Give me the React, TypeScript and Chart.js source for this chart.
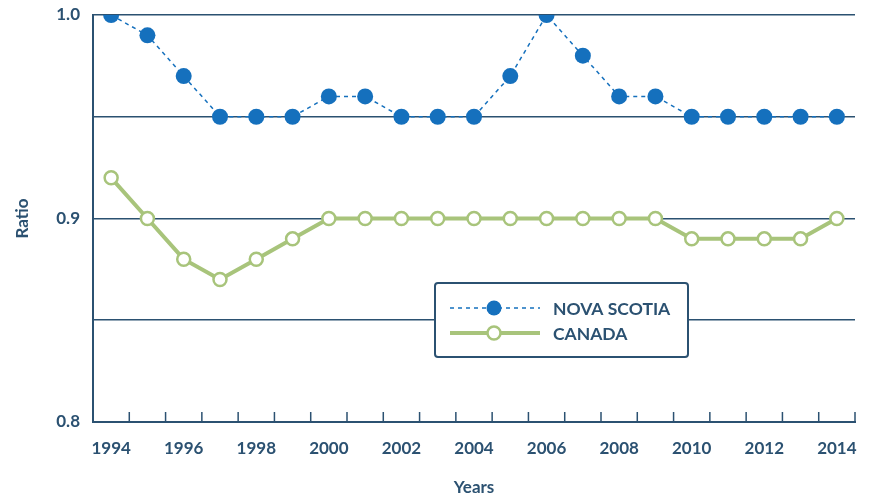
import React, { useEffect, useRef } from "react";
import { Chart, registerables } from "chart.js";
Chart.register(...registerables);

const years = ["1994","1995","1996","1997","1998","1999","2000","2001","2002","2003","2004","2005","2006","2007","2008","2009","2010","2011","2012","2013","2014"];
const novaScotia = [1.0,0.99,0.97,0.95,0.95,0.95,0.96,0.96,0.95,0.95,0.95,0.97,1.0,0.98,0.96,0.96,0.95,0.95,0.95,0.95,0.95];
const canada = [0.92,0.90,0.88,0.87,0.88,0.89,0.90,0.90,0.90,0.90,0.90,0.90,0.90,0.90,0.90,0.90,0.89,0.89,0.89,0.89,0.90];
const seriesNames = ["NOVA SCOTIA", "CANADA"];

const NAVY = "#2b5171";
const BLUE = "#1570bd";
const GREEN = "#a8c47b";
const FONT = "Lato, 'Noto Sans', sans-serif";

const xTicksPlugin = {
  id: "xTicks",
  afterDraw(chart: any) {
    const { ctx } = chart;
    const x = chart.scales.x;
    const bottom = chart.chartArea.bottom;
    const n = years.length;
    const half = (x.getPixelForValue(1) - x.getPixelForValue(0)) / 2;
    ctx.save();
    ctx.strokeStyle = NAVY;
    ctx.lineWidth = 1.5;
    for (let i = 0; i < n; i++) {
      const px = x.getPixelForValue(i) + half;
      ctx.beginPath();
      ctx.moveTo(px, bottom);
      ctx.lineTo(px, bottom - 10);
      ctx.stroke();
    }
    ctx.restore();
  },
};

const legendPlugin = {
  id: "boxLegend",
  afterDatasetsDraw(chart: any) {
    const { ctx } = chart;
    const bx = 435, by = 283, bw = 253, bh = 74;
    ctx.save();
    ctx.fillStyle = "#ffffff";
    ctx.strokeStyle = NAVY;
    ctx.lineWidth = 2;
    ctx.beginPath();
    ctx.roundRect(bx, by, bw, bh, 3);
    ctx.fill();
    ctx.stroke();
    // Nova Scotia
    ctx.strokeStyle = BLUE;
    ctx.lineWidth = 1.5;
    ctx.setLineDash([4, 4]);
    ctx.beginPath();
    ctx.moveTo(450, 308);
    ctx.lineTo(540, 308);
    ctx.stroke();
    ctx.setLineDash([]);
    ctx.fillStyle = BLUE;
    ctx.beginPath();
    ctx.arc(494, 308, 7.5, 0, Math.PI * 2);
    ctx.fill();
    // Canada
    ctx.strokeStyle = GREEN;
    ctx.lineWidth = 4;
    ctx.beginPath();
    ctx.moveTo(450, 333);
    ctx.lineTo(540, 333);
    ctx.stroke();
    ctx.fillStyle = "#ffffff";
    ctx.lineWidth = 2.5;
    ctx.beginPath();
    ctx.arc(494, 333, 6.5, 0, Math.PI * 2);
    ctx.fill();
    ctx.stroke();
    ctx.fillStyle = NAVY;
    ctx.font = `bold 17.5px ${FONT}`;
    ctx.textBaseline = "middle";
    ctx.textAlign = "left";
    ctx.fillText(seriesNames[0], 553, 309);
    ctx.fillText(seriesNames[1], 553, 334);
    ctx.restore();
  },
};

export default function App() {
  const ref = useRef<HTMLCanvasElement>(null);
  useEffect(() => {
    const chart = new Chart(ref.current!, {
      type: "line",
      data: {
        labels: years,
        datasets: [
          {
            label: seriesNames[0],
            data: novaScotia,
            borderColor: BLUE,
            backgroundColor: BLUE,
            borderWidth: 1.5,
            borderDash: [4, 4],
            pointRadius: 8,
            pointBorderWidth: 0,
            pointBackgroundColor: BLUE,
            tension: 0,
          },
          {
            label: seriesNames[1],
            data: canada,
            borderColor: GREEN,
            backgroundColor: "#ffffff",
            borderWidth: 4,
            pointRadius: 6.5,
            pointBorderWidth: 2.5,
            pointBorderColor: GREEN,
            pointBackgroundColor: "#ffffff",
            tension: 0,
          },
        ],
      },
      options: {
        animation: false,
        responsive: false,
        maintainAspectRatio: false,
        layout: { padding: { top: 15, right: 14, left: 0, bottom: 0 } },
        plugins: { legend: { display: false }, tooltip: { enabled: false } },
        scales: {
          x: {
            offset: true,
            grid: { display: true, drawOnChartArea: false, drawTicks: false, offset: true },
            border: { display: true, color: NAVY, width: 2 },
            ticks: {
              autoSkip: false,
              maxRotation: 0,
              padding: 16,
              color: NAVY,
              font: { family: FONT, size: 17, weight: "bold" },
              callback: (v: any, i: number) => (i % 2 === 0 ? years[i] : ""),
            },
            title: {
              display: true,
              text: "Years",
              color: NAVY,
              font: { family: FONT, size: 17, weight: "bold" },
              padding: { top: 25, bottom: 0 },
            },
            afterFit: (s: any) => {
              s.height = 76;
              s.paddingLeft = 0;
              s.paddingRight = 0;
            },
          },
          y: {
            min: 0.8,
            max: 1.0,
            grid: { color: NAVY, lineWidth: 1.5, drawTicks: false },
            border: { display: true, color: NAVY, width: 2 },
            ticks: {
              stepSize: 0.05,
              padding: 13,
              color: NAVY,
              font: { family: FONT, size: 17, weight: "bold" },
              callback: (v: any) => {
                const r = Math.round(v * 100);
                return r % 10 === 0 ? (r / 100).toFixed(1) : "";
              },
            },
            title: {
              display: true,
              text: "Ratio",
              color: NAVY,
              font: { family: FONT, size: 17, weight: "bold" },
              padding: { top: 12, bottom: 0 },
            },
            afterFit: (s: any) => {
              s.width = 93;
              s.paddingTop = 0;
              s.paddingBottom = 0;
            },
          },
        },
      },
      plugins: [xTicksPlugin, legendPlugin],
    });
    return () => chart.destroy();
  }, []);
  return (
    <div style={{ position: "fixed", left: 0, top: 0, width: 869, height: 498, background: "#fff" }}>
      <canvas ref={ref} width={869} height={498} />
    </div>
  );
}
